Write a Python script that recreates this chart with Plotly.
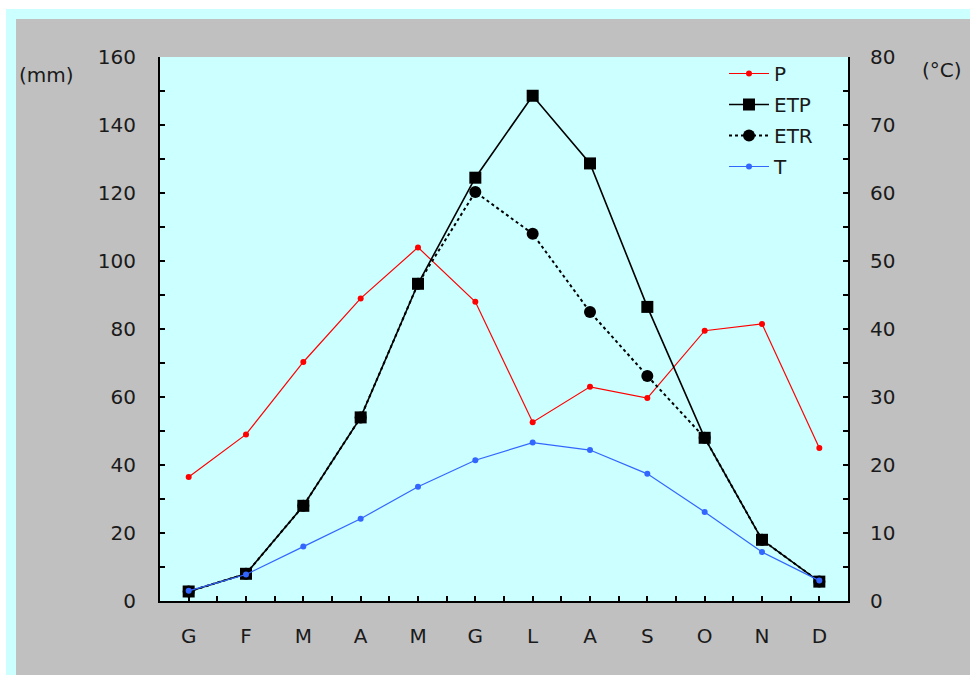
import plotly.graph_objects as go

months = ["G", "F", "M", "A", "M", "G", "L", "A", "S", "O", "N", "D"]
P = [36.5, 49, 70.3, 89, 104, 88, 52.6, 63, 59.7, 79.5, 81.5, 45]
ETP = [2.8, 8, 28, 54, 93.3, 124.5, 148.6, 128.7, 86.5, 48, 18, 5.7]
ETR = [2.8, 8, 28, 54, 93.3, 120.3, 108, 85, 66.2, 48, 18, 5.7]
T = [1.5, 3.9, 8, 12.1, 16.8, 20.7, 23.3, 22.2, 18.7, 13.1, 7.2, 3.0]

x = list(range(len(months)))

GRAY = "#C0C0C0"
CYAN = "#CCFFFF"
FONT = "DejaVu Sans"
FS = 20

fig = go.Figure()

fig.add_trace(go.Scatter(
    x=x, y=P, name="P", mode="lines+markers",
    line=dict(color="#FF0000", width=1.2),
    marker=dict(symbol="circle", size=6, color="#FF0000"),
    legendgroup="P", legendrank=1))
fig.add_trace(go.Scatter(
    x=x, y=ETR, name="ETR", mode="lines+markers",
    line=dict(color="#000000", width=2, dash="dot"),
    marker=dict(symbol="circle", size=12, color="#000000"),
    legendgroup="ETR", legendrank=3))
fig.add_trace(go.Scatter(
    x=x, y=ETP, name="ETP", mode="lines+markers",
    line=dict(color="#000000", width=1.6),
    marker=dict(symbol="square", size=12, color="#000000"),
    legendgroup="ETP", legendrank=2))
fig.add_trace(go.Scatter(
    x=x, y=T, name="T", mode="lines+markers", yaxis="y2",
    line=dict(color="#3366FF", width=1.2),
    marker=dict(symbol="circle", size=6, color="#3366FF"),
    legendgroup="T", legendrank=4))

W, H = 970, 675
L, R, TOP, B = 160, 848, 57, 601
pw, ph = R - L, B - TOP

def px(v):
    return (v - L) / pw

def py(v):
    return (B - v) / ph

shapes = [
    dict(type="rect", xref="paper", yref="paper", x0=px(0), x1=px(W), y0=py(0), y1=py(9),
         fillcolor="white", line=dict(width=0), layer="above"),
    dict(type="rect", xref="paper", yref="paper", x0=px(0), x1=px(6), y0=py(H), y1=py(0),
         fillcolor="white", line=dict(width=0), layer="above"),
    dict(type="rect", xref="paper", yref="paper", x0=px(6), x1=px(W), y0=py(19), y1=py(9),
         fillcolor=CYAN, line=dict(width=0), layer="above"),
    dict(type="rect", xref="paper", yref="paper", x0=px(6), x1=px(16), y0=py(H), y1=py(9),
         fillcolor=CYAN, line=dict(width=0), layer="above"),
]

tick_style = dict(ticks="inside", ticklen=5, tickwidth=1.5, tickcolor="black")

fig.update_layout(
    width=W, height=H,
    margin=dict(l=L, r=W - R, t=TOP, b=H - B),
    paper_bgcolor=GRAY, plot_bgcolor=CYAN,
    font=dict(family=FONT, size=FS, color="#1a1a1a"),
    shapes=shapes,
    xaxis=dict(
        range=[-0.5, 11.5], tickmode="array", tickvals=x, ticktext=months,
        minor=dict(tickmode="array", tickvals=[i + 0.5 for i in range(-1, len(months))],
                   **tick_style),
        showline=True, linecolor="black", linewidth=2, showgrid=False, zeroline=False,
        ticklabelstandoff=16, **tick_style),
    yaxis=dict(
        range=[0, 160], tickmode="linear", tick0=0, dtick=20,
        minor=dict(tickmode="linear", tick0=0, dtick=10, **tick_style),
        showline=True, linecolor="black", linewidth=2, showgrid=False, zeroline=False,
        ticklabelstandoff=18, **tick_style),
    yaxis2=dict(
        range=[0, 80], overlaying="y", side="right", tickmode="linear", tick0=0, dtick=10,
        minor=dict(tickmode="linear", tick0=0, dtick=5, **tick_style),
        showline=True, linecolor="black", linewidth=2, showgrid=False, zeroline=False,
        ticklabelstandoff=16, **tick_style),
    legend=dict(
        x=px(724), y=py(54), xanchor="left", yanchor="top",
        bgcolor="rgba(0,0,0,0)", borderwidth=0, font=dict(family=FONT, size=FS),
        tracegroupgap=2, itemwidth=40),
    annotations=[
        dict(text="(mm)", xref="paper", yref="paper", x=px(17), y=py(75),
             xanchor="left", yanchor="middle", showarrow=False,
             font=dict(family=FONT, size=FS)),
        dict(text="(°C)", xref="paper", yref="paper", x=px(920), y=py(70),
             xanchor="left", yanchor="middle", showarrow=False,
             font=dict(family=FONT, size=FS)),
    ],
)

fig.write_html("out.html", config={"displayModeBar": False},
               post_script="document.body.style.margin='0';document.body.style.overflow='hidden';")
